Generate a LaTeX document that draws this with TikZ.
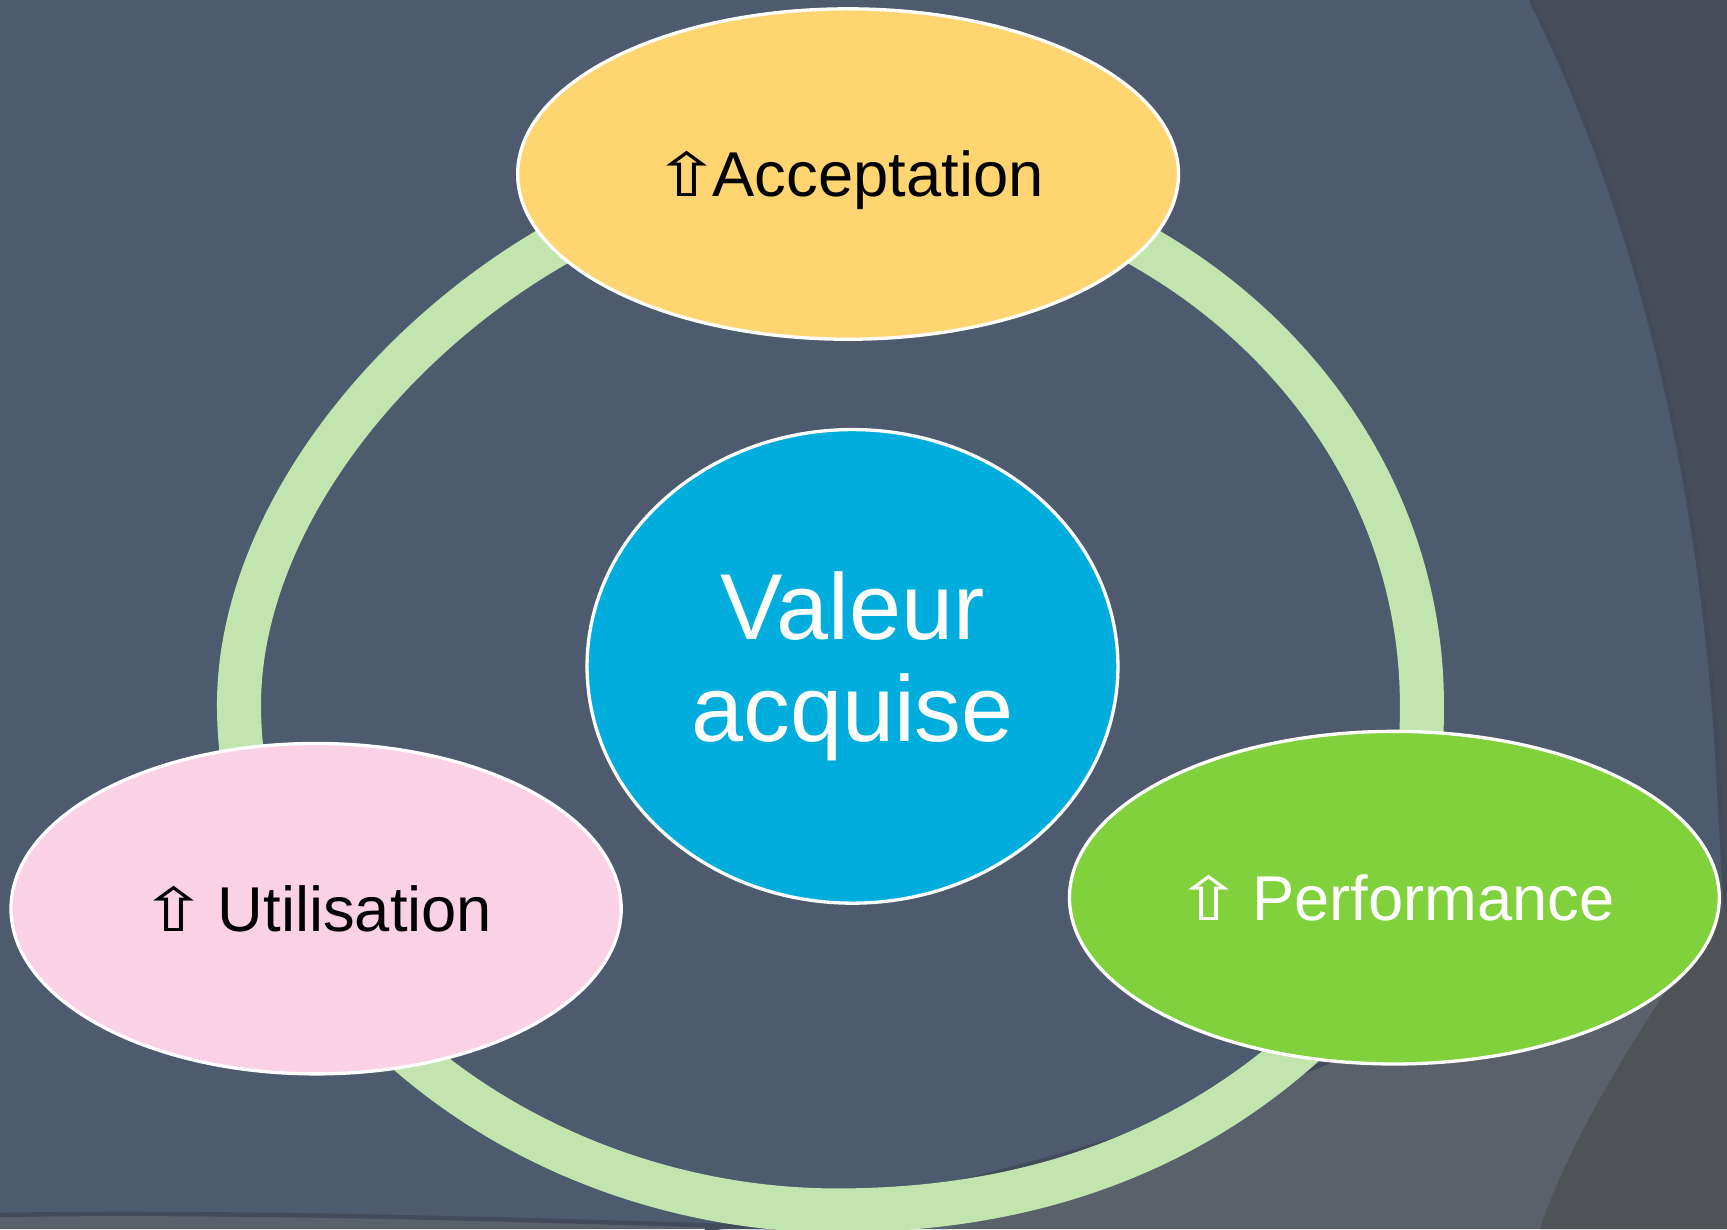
\documentclass[tikz,border=0pt]{standalone}
\usepackage{fontspec}
\setmainfont{Liberation Sans}
\newfontfamily\arrowfont{DejaVu Sans}
\usetikzlibrary{shapes.geometric}
\definecolor{slate}{HTML}{4E5A6D}
\definecolor{darkband}{HTML}{484E59}
\definecolor{lightband}{HTML}{5A616B}
\definecolor{cornerband}{HTML}{4F5257}
\definecolor{shadowc}{HTML}{434B5B}
\definecolor{ringgreen}{HTML}{C2E5AF}
\definecolor{accfill}{HTML}{FFD571}
\definecolor{valfill}{HTML}{01ADDC}
\definecolor{utifill}{HTML}{FBD1E5}
\definecolor{perffill}{HTML}{80D13C}
\newcommand{\UpArrowMark}{{\arrowfont\scalebox{1.3}[0.95]{⇧}}}
\begin{document}
\begin{tikzpicture}[x=0.5pt,y=-0.5pt,
  bubble/.style={ellipse, draw=white, line width=1.5pt, inner sep=0pt,
    text height=20.6pt, text depth=0pt, font=\fontsize{28.75pt}{34pt}\selectfont},
  shadowline/.style={shadowc, line width=2pt}]
\useasboundingbox (0,0) rectangle (1568,1116);
% background
\fill[slate] (0,0) rectangle (1568,1116);
\fill[lightband] (0,1103) .. controls (250,1099) and (550,1110) .. (760,1116) -- (0,1116) -- cycle;
\fill[lightband] (640,1116) .. controls (850,1090) and (1150,1010) .. (1330,900)
  .. controls (1450,840) and (1520,820) .. (1568,850) -- (1568,1116) -- cycle;
\draw[shadowline] (0,1103) .. controls (250,1099) and (550,1110) .. (760,1116);
\draw[shadowline] (640,1116) .. controls (850,1090) and (1150,1010) .. (1330,900);
\fill[darkband] (1390,0) .. controls (1480,180) and (1545,420) .. (1560,700)
  .. controls (1563,760) and (1566,800) .. (1568,860) -- (1568,0) -- cycle;
\draw[shadowline] (1390,0) .. controls (1480,180) and (1545,420) .. (1560,700)
  .. controls (1563,760) and (1566,800) .. (1568,860);
\fill[cornerband] (1568,820) .. controls (1510,900) and (1430,1020) .. (1398,1116) -- (1568,1116) -- cycle;
% ring
\draw[ringgreen, line width=20pt]
  (217,640) .. controls (217,404.8) and (496.2,150) .. (754,150)
  .. controls (1050.6,150) and (1291,369.4) .. (1291,640)
  .. controls (1291,800) and (1250,890) .. (1180,952)
  .. controls (1080,1040) and (945,1099) .. (760,1099)
  .. controls (480,1099) and (217,900) .. (217,640) -- cycle;
% nodes
\node[bubble, fill=accfill, minimum width=300pt, minimum height=150pt] (acc) at (770,158) {\UpArrowMark\kern-4pt Acceptation};
\node[ellipse, draw=white, line width=1.5pt, fill=valfill, inner sep=0pt,
  minimum width=241pt, minimum height=215pt, align=center, text=white,
  font=\fontsize{42.5pt}{46.5pt}\selectfont] (val) at (774,605) {Valeur\\acquise};
\node[bubble, fill=utifill, minimum width=277pt, minimum height=150pt] (uti) at (287,825) {\UpArrowMark\kern4pt Utilisation};
\node[bubble, fill=perffill, text=white, minimum width=295pt, minimum height=151pt] (perf) at (1266,815) {\UpArrowMark\kern4pt Performance};
\end{tikzpicture}
\end{document}
